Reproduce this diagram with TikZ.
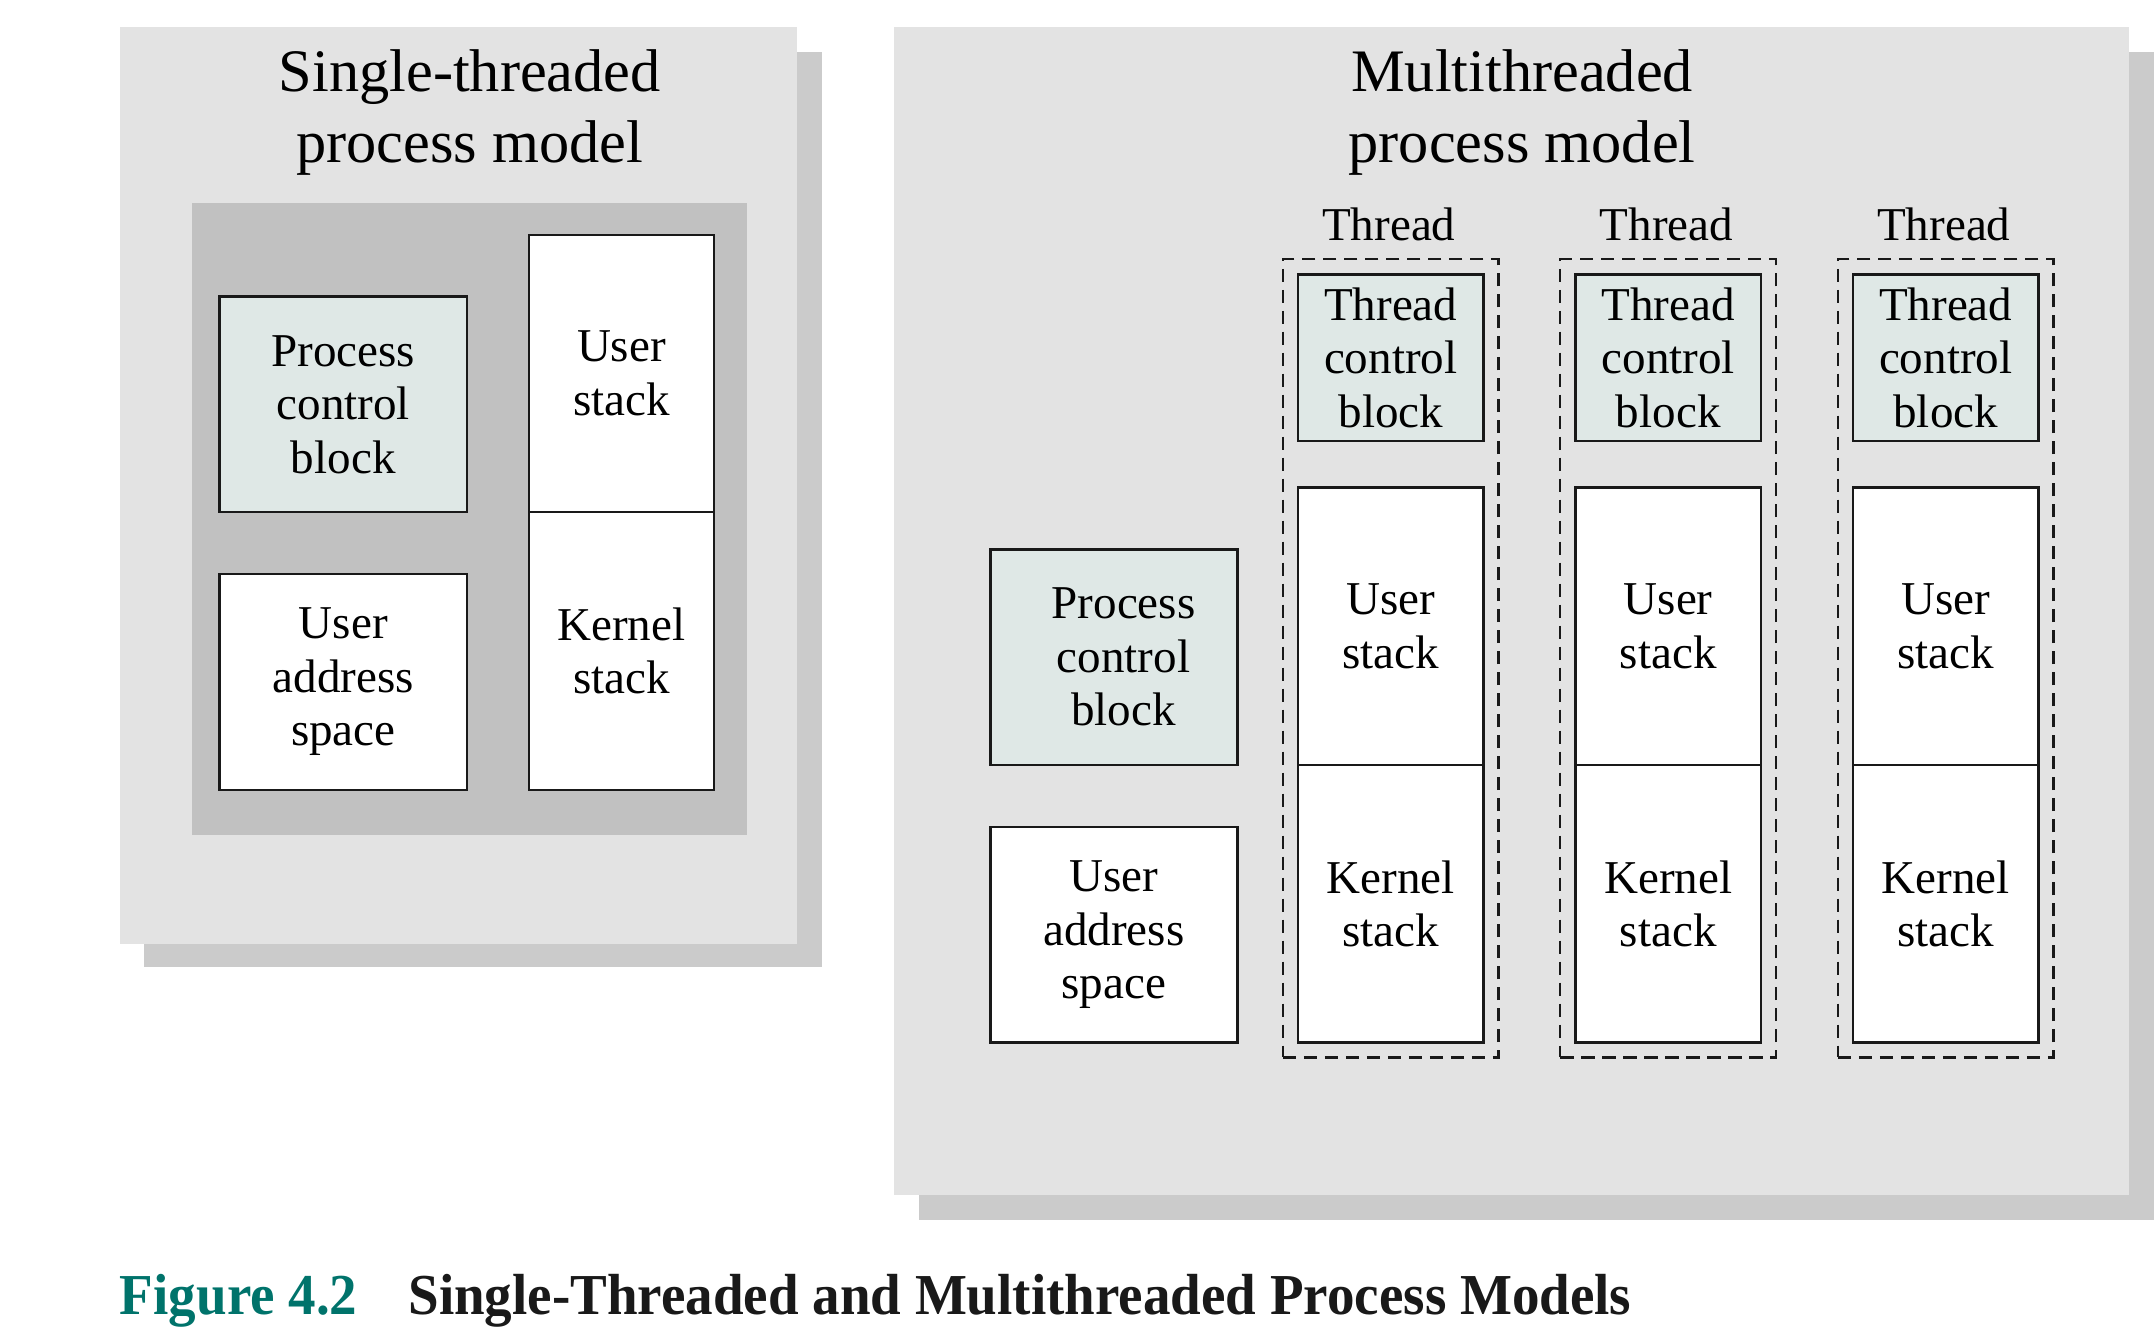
\documentclass[tikz,border=0pt]{standalone}
\usepackage{fontspec}
\setmainfont{Liberation Serif}
\newfontfamily\capfont{Liberation Serif}[FakeStretch=0.95]
\definecolor{panelgray}{HTML}{E3E3E3}
\definecolor{shadowgray}{HTML}{CBCBCB}
\definecolor{innergray}{HTML}{C1C1C1}
\definecolor{blockfill}{HTML}{DFE8E6}
\definecolor{figteal}{HTML}{00736B}
\begin{document}
\begin{tikzpicture}[
    blk/.style={draw=black!90, line width=1pt, anchor=north west, inner sep=0pt,
      align=center, font=\fontsize{19.5}{22.2}\selectfont},
    pcb/.style={blk, fill=blockfill, minimum width=180*\u, minimum height=157*\u},
    uas/.style={blk, fill=white, minimum width=180*\u, minimum height=157*\u},
    stk/.style={blk, fill=white, minimum width=135*\u, minimum height=202*\u},
    tcb/.style={blk, fill=blockfill, minimum width=135*\u, minimum height=121*\u},
    grp/.style={draw=black!90, line width=0.9pt, dash pattern=on 5.5pt off 3.2pt,
      anchor=north west, inner sep=0pt, minimum width=157*\u, minimum height=581*\u},
    lbl/.style={font=\fontsize{19.5}{22.2}\selectfont},
    ttl/.style={align=center, font=\fontsize{25}{29.6}\selectfont},
    captxt/.style={anchor=base west, inner sep=0pt,
      font=\capfont\bfseries\fontsize{24}{28}\selectfont}
  ]
    \def\x{0.02}
    \def\y{-0.02}
    \def\u{0.02cm}
    \useasboundingbox (0,0) rectangle (1568*\x, 970*\y);
    % panels
    \fill[shadowgray] (105*\x, 38*\y) rectangle (598*\x, 704*\y);
    \fill[panelgray] (87*\x, 20*\y) rectangle (580*\x, 687*\y);
    \fill[innergray] (140*\x, 148*\y) rectangle (544*\x, 608*\y);
    \fill[shadowgray] (669*\x, 38*\y) rectangle (1568*\x, 888*\y);
    \fill[panelgray] (651*\x, 20*\y) rectangle (1550*\x, 870*\y);
    % single-threaded
    \node[ttl] (S0_0) at (342*\x, 82*\y) {Single-threaded\\process model};
    \node[pcb] (S1_1) at (159*\x, 215*\y) {Process\\control\\block};
    \node[stk] (S1_2) at (384*\x, 170*\y) {User\\stack};
    \node[uas] (S2_1) at (159*\x, 417*\y) {User\\address\\space};
    \node[stk] (S2_2) at (384*\x, 372*\y) {Kernel\\stack};
    % multithreaded
    \node[ttl] (M0_0) at (1108*\x, 82*\y) {Multithreaded\\process model};
    \node[pcb] (M2_0) at (720*\x, 399*\y) {\hspace*{8pt}Process\\\hspace*{8pt}control\\\hspace*{8pt}block};
    \node[uas] (M3_0) at (720*\x, 601*\y) {User\\address\\space};
    \node[grp] (G1) at (933*\x, 188*\y) {};
    \node[lbl] (M0_1) at (1011*\x, 163*\y) {Thread};
    \node[tcb] (M1_1) at (944*\x, 199*\y) {Thread\\control\\block};
    \node[stk] (M2_1) at (944*\x, 354*\y) {User\\stack};
    \node[stk] (M3_1) at (944*\x, 556*\y) {Kernel\\stack};
    \node[grp] (G2) at (1135*\x, 188*\y) {};
    \node[lbl] (M0_2) at (1213*\x, 163*\y) {Thread};
    \node[tcb] (M1_2) at (1146*\x, 199*\y) {Thread\\control\\block};
    \node[stk] (M2_2) at (1146*\x, 354*\y) {User\\stack};
    \node[stk] (M3_2) at (1146*\x, 556*\y) {Kernel\\stack};
    \node[grp] (G3) at (1337*\x, 188*\y) {};
    \node[lbl] (M0_3) at (1415*\x, 163*\y) {Thread};
    \node[tcb] (M1_3) at (1348*\x, 199*\y) {Thread\\control\\block};
    \node[stk] (M2_3) at (1348*\x, 354*\y) {User\\stack};
    \node[stk] (M3_3) at (1348*\x, 556*\y) {Kernel\\stack};
    % caption
    \node[captxt, text=figteal] (C0) at (87*\x, 957*\y) {Figure 4.2};
    \node[captxt, text=black!90] (C1) at (297*\x, 957*\y) {Single-Threaded and Multithreaded Process Models};
  \end{tikzpicture}
\end{document}
